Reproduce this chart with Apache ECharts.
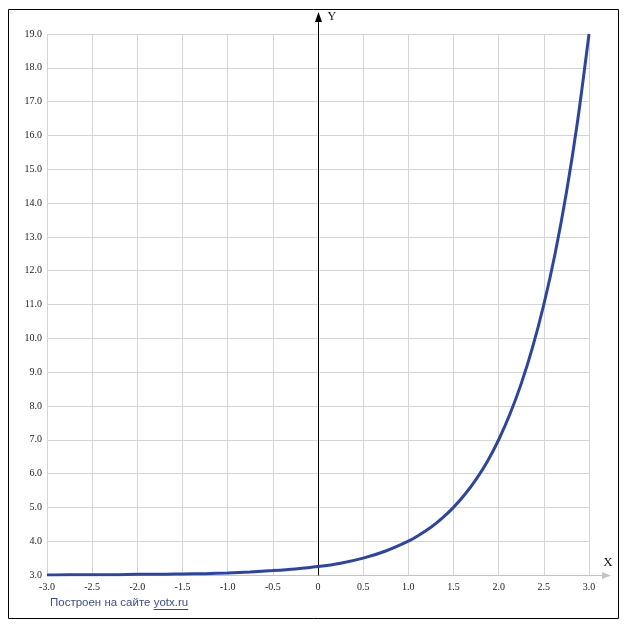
<!DOCTYPE html>
<html>
<head>
<meta charset="utf-8">
<script src="https://cdn.jsdelivr.net/npm/echarts@6/dist/echarts.min.js"></script>
<style>
html,body{margin:0;padding:0;background:#fff;}
#c{width:627px;height:630px;}
</style>
</head>
<body>
<div id="c"></div>
<script>
// Data
var xValues = [-3, -2.75, -2.5, -2.25, -2, -1.75, -1.5, -1.25, -1, -0.75, -0.5, -0.25, 0,
               0.25, 0.5, 0.75, 1, 1.125, 1.25, 1.375, 1.5, 1.625, 1.75, 1.875, 2,
               2.125, 2.25, 2.375, 2.5, 2.625, 2.75, 2.875, 3];
var yValues = [3.0, 3.01, 3.01, 3.01, 3.02, 3.02, 3.03, 3.04, 3.06, 3.09, 3.13, 3.18, 3.25,
               3.35, 3.5, 3.71, 4.0, 4.19, 4.41, 4.68, 5.0, 5.38, 5.83, 6.36, 7.0,
               7.76, 8.66, 9.73, 11.0, 12.51, 14.31, 16.45, 19.0];
var xTicks = [-3, -2.5, -2, -1.5, -1, -0.5, 0, 0.5, 1, 1.5, 2, 2.5, 3];
var yTicks = [3, 4, 5, 6, 7, 8, 9, 10, 11, 12, 13, 14, 15, 16, 17, 18, 19];
var xAxisName = 'X';
var yAxisName = 'Y';
var footerText = 'Построен на сайте ';
var footerLink = 'yotx.ru';

var points = xValues.map(function (x, i) { return [x, yValues[i]]; });
var chart = echarts.init(document.getElementById('c'), null, {renderer: 'canvas'});
var serif = '"Liberation Serif", "Times New Roman", serif';

chart.setOption({
  animation: false,
  grid: {left: 47, right: 38, top: 34, bottom: 55, containLabel: false},
  xAxis: {
    type: 'value', min: xTicks[0], max: xTicks[xTicks.length - 1], interval: 0.5,
    axisLine: {show: false}, axisTick: {show: false},
    splitLine: {show: true, lineStyle: {color: '#d4d4d4', width: 1}},
    axisLabel: {
      margin: 7, color: '#222', fontFamily: serif, fontSize: 10,
      formatter: function (v) { return v === 0 ? '0' : v.toFixed(1); }
    }
  },
  yAxis: {
    type: 'value', min: yTicks[0], max: yTicks[yTicks.length - 1], interval: 1,
    axisLine: {show: false}, axisTick: {show: false},
    splitLine: {show: true, lineStyle: {color: '#d4d4d4', width: 1}},
    axisLabel: {
      margin: 5, color: '#222', fontFamily: serif, fontSize: 10,
      formatter: function (v) { return v.toFixed(1); }
    }
  },
  series: [{
    type: 'line', data: points, smooth: 0.3, showSymbol: false,
    lineStyle: {color: '#2a44a8', width: 3}, z: 5
  }]
});

function measure(text, font) {
  var c = document.createElement('canvas').getContext('2d');
  c.font = font;
  return c.measureText(text).width;
}

var p0 = chart.convertToPixel({gridIndex: 0}, [0, yTicks[0]]);
var pTop = chart.convertToPixel({gridIndex: 0}, [0, yTicks[yTicks.length - 1]]);
var pLeft = chart.convertToPixel({gridIndex: 0}, [xTicks[0], yTicks[0]]);
var pRight = chart.convertToPixel({gridIndex: 0}, [xTicks[xTicks.length - 1], yTicks[0]]);

var zx = Math.round(p0[0]) + 0.5;
var by = Math.round(p0[1]) + 0.5;
var arrowTopY = pTop[1] - 22;
var xEnd = pRight[0] + 22;
var footFont = '11.5px "Liberation Sans", Arial, sans-serif';
var fw = measure(footerText, footFont);
var lw = measure(footerLink, footFont);
var fx = 50, fy = 603;

chart.setOption({
  graphic: [
    {type: 'rect', shape: {x: 8.5, y: 9.5, width: 610, height: 609},
     style: {fill: 'none', stroke: '#000', lineWidth: 1}, silent: true, z: 0},
    // x axis line (gray) with arrow
    {type: 'line', shape: {x1: pLeft[0], y1: by, x2: xEnd - 6, y2: by},
     style: {stroke: '#c4c4c4', lineWidth: 1}, z: 3},
    {type: 'polygon', shape: {points: [[xEnd, by], [xEnd - 9, by - 3.5], [xEnd - 9, by + 3.5]]},
     style: {fill: '#c4c4c4'}, z: 3},
    // y axis line (black) at x = 0 with arrow
    {type: 'line', shape: {x1: zx, y1: by, x2: zx, y2: arrowTopY + 6},
     style: {stroke: '#000', lineWidth: 1}, z: 4},
    {type: 'polygon', shape: {points: [[zx, arrowTopY], [zx - 3.5, arrowTopY + 10], [zx + 3.5, arrowTopY + 10]]},
     style: {fill: '#000'}, z: 4},
    {type: 'text', x: zx + 9, y: arrowTopY - 1,
     style: {text: yAxisName, font: '12px ' + serif, fill: '#111', textAlign: 'left', textVerticalAlign: 'top'}, z: 4},
    {type: 'text', x: xEnd - 3, y: by - 13,
     style: {text: xAxisName, font: '13px ' + serif, fill: '#111', textAlign: 'center', textVerticalAlign: 'middle'}, z: 4},
    // footer
    {type: 'text', x: fx, y: fy,
     style: {text: footerText, font: footFont, fill: '#3b4a98', textAlign: 'left', textVerticalAlign: 'middle'}, z: 4},
    {type: 'text', x: fx + fw, y: fy,
     style: {text: footerLink, font: footFont, fill: '#3b4a98', textAlign: 'left', textVerticalAlign: 'middle'}, z: 4},
    {type: 'line', shape: {x1: fx + fw, y1: fy + 6.5, x2: fx + fw + lw, y2: fy + 6.5},
     style: {stroke: '#3b4a98', lineWidth: 1}, z: 4}
  ]
});
</script>
</body>
</html>
